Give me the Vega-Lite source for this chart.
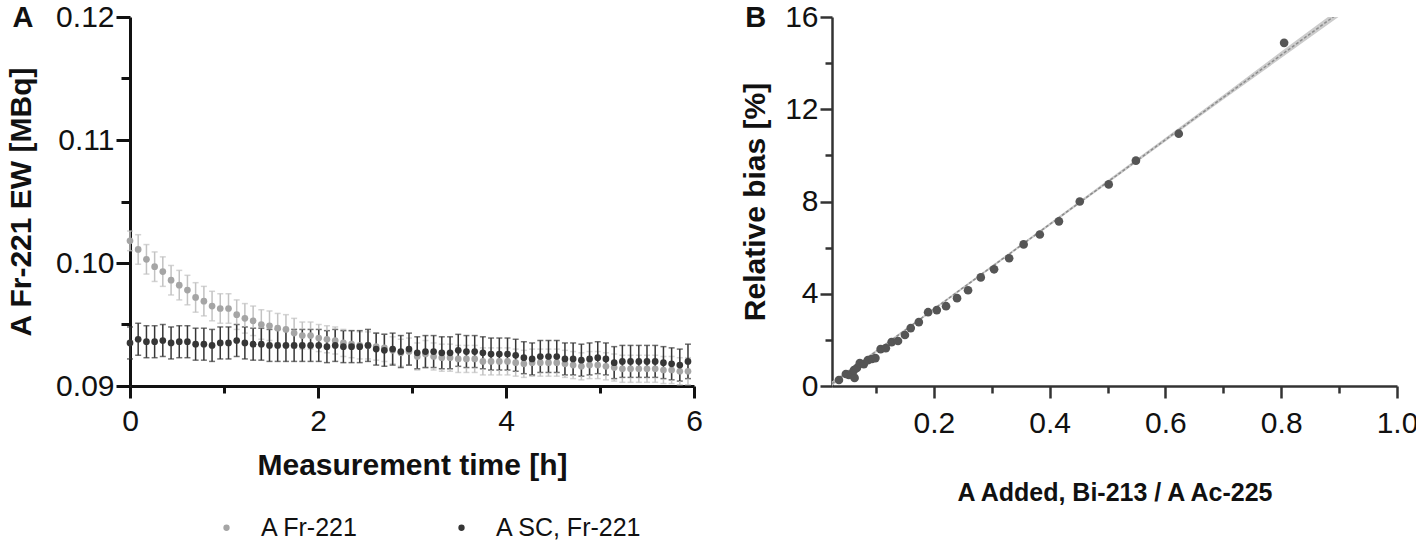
{
  "$schema": "https://vega.github.io/schema/vega-lite/v6.json",
  "background": "white",
  "padding": {"left": 6, "top": 2, "right": 2, "bottom": 0},
  "config": {
    "font": "Liberation Sans",
    "view": {"stroke": null},
    "concat": {"spacing": 37},
    "axis": {
      "grid": false,
      "labelFont": "Liberation Sans",
      "labelFontSize": 30,
      "labelColor": "#111111",
      "titleFont": "Liberation Sans",
      "titleFontSize": 30,
      "titleFontWeight": "bold",
      "titleColor": "#111111",
      "domainColor": "#111111",
      "tickColor": "#111111",
      "domainWidth": 3,
      "tickWidth": 3,
      "labelFlush": false,
      "labelOverlap": false
    }
  },
  "datasets": {
    "a": [
      {"t":0,"v":0.1018,"e":0.0008,"s":"A Fr-221"},
      {"t":0.087,"v":0.1011,"e":0.0012,"s":"A Fr-221"},
      {"t":0.175,"v":0.1003,"e":0.0012,"s":"A Fr-221"},
      {"t":0.262,"v":0.0997,"e":0.0012,"s":"A Fr-221"},
      {"t":0.349,"v":0.0993,"e":0.0012,"s":"A Fr-221"},
      {"t":0.437,"v":0.0986,"e":0.0012,"s":"A Fr-221"},
      {"t":0.524,"v":0.0982,"e":0.0012,"s":"A Fr-221"},
      {"t":0.611,"v":0.0978,"e":0.0012,"s":"A Fr-221"},
      {"t":0.698,"v":0.0972,"e":0.0012,"s":"A Fr-221"},
      {"t":0.786,"v":0.0969,"e":0.0012,"s":"A Fr-221"},
      {"t":0.873,"v":0.0965,"e":0.0012,"s":"A Fr-221"},
      {"t":0.960,"v":0.0963,"e":0.0012,"s":"A Fr-221"},
      {"t":1.048,"v":0.0963,"e":0.0012,"s":"A Fr-221"},
      {"t":1.135,"v":0.0958,"e":0.0012,"s":"A Fr-221"},
      {"t":1.222,"v":0.0955,"e":0.0012,"s":"A Fr-221"},
      {"t":1.310,"v":0.0953,"e":0.0012,"s":"A Fr-221"},
      {"t":1.397,"v":0.0950,"e":0.0012,"s":"A Fr-221"},
      {"t":1.484,"v":0.0949,"e":0.0012,"s":"A Fr-221"},
      {"t":1.571,"v":0.0947,"e":0.0012,"s":"A Fr-221"},
      {"t":1.659,"v":0.0946,"e":0.0012,"s":"A Fr-221"},
      {"t":1.746,"v":0.0943,"e":0.0012,"s":"A Fr-221"},
      {"t":1.833,"v":0.0941,"e":0.0011,"s":"A Fr-221"},
      {"t":1.921,"v":0.0941,"e":0.0011,"s":"A Fr-221"},
      {"t":2.008,"v":0.0939,"e":0.0011,"s":"A Fr-221"},
      {"t":2.095,"v":0.0938,"e":0.0011,"s":"A Fr-221"},
      {"t":2.183,"v":0.0937,"e":0.0011,"s":"A Fr-221"},
      {"t":2.270,"v":0.0935,"e":0.0011,"s":"A Fr-221"},
      {"t":2.357,"v":0.0934,"e":0.0011,"s":"A Fr-221"},
      {"t":2.444,"v":0.0933,"e":0.0011,"s":"A Fr-221"},
      {"t":2.532,"v":0.0933,"e":0.0011,"s":"A Fr-221"},
      {"t":2.619,"v":0.0932,"e":0.0011,"s":"A Fr-221"},
      {"t":2.706,"v":0.0931,"e":0.0011,"s":"A Fr-221"},
      {"t":2.794,"v":0.0929,"e":0.0011,"s":"A Fr-221"},
      {"t":2.881,"v":0.0927,"e":0.0011,"s":"A Fr-221"},
      {"t":2.968,"v":0.0928,"e":0.0011,"s":"A Fr-221"},
      {"t":3.056,"v":0.0924,"e":0.0011,"s":"A Fr-221"},
      {"t":3.143,"v":0.0926,"e":0.0011,"s":"A Fr-221"},
      {"t":3.230,"v":0.0924,"e":0.0011,"s":"A Fr-221"},
      {"t":3.317,"v":0.0923,"e":0.0011,"s":"A Fr-221"},
      {"t":3.405,"v":0.0923,"e":0.0011,"s":"A Fr-221"},
      {"t":3.492,"v":0.0922,"e":0.0011,"s":"A Fr-221"},
      {"t":3.579,"v":0.0922,"e":0.0011,"s":"A Fr-221"},
      {"t":3.667,"v":0.0922,"e":0.0011,"s":"A Fr-221"},
      {"t":3.754,"v":0.0920,"e":0.0011,"s":"A Fr-221"},
      {"t":3.841,"v":0.0920,"e":0.0011,"s":"A Fr-221"},
      {"t":3.929,"v":0.0920,"e":0.0011,"s":"A Fr-221"},
      {"t":4.016,"v":0.0920,"e":0.0011,"s":"A Fr-221"},
      {"t":4.103,"v":0.0919,"e":0.0011,"s":"A Fr-221"},
      {"t":4.190,"v":0.0918,"e":0.0011,"s":"A Fr-221"},
      {"t":4.278,"v":0.0919,"e":0.0011,"s":"A Fr-221"},
      {"t":4.365,"v":0.0919,"e":0.0011,"s":"A Fr-221"},
      {"t":4.452,"v":0.0919,"e":0.0011,"s":"A Fr-221"},
      {"t":4.540,"v":0.0919,"e":0.0011,"s":"A Fr-221"},
      {"t":4.627,"v":0.0918,"e":0.0011,"s":"A Fr-221"},
      {"t":4.714,"v":0.0917,"e":0.0011,"s":"A Fr-221"},
      {"t":4.802,"v":0.0916,"e":0.0011,"s":"A Fr-221"},
      {"t":4.889,"v":0.0917,"e":0.0011,"s":"A Fr-221"},
      {"t":4.976,"v":0.0917,"e":0.0011,"s":"A Fr-221"},
      {"t":5.063,"v":0.0916,"e":0.0011,"s":"A Fr-221"},
      {"t":5.151,"v":0.0915,"e":0.0011,"s":"A Fr-221"},
      {"t":5.238,"v":0.0914,"e":0.0011,"s":"A Fr-221"},
      {"t":5.325,"v":0.0914,"e":0.0011,"s":"A Fr-221"},
      {"t":5.413,"v":0.0914,"e":0.0011,"s":"A Fr-221"},
      {"t":5.500,"v":0.0914,"e":0.0011,"s":"A Fr-221"},
      {"t":5.587,"v":0.0914,"e":0.0011,"s":"A Fr-221"},
      {"t":5.675,"v":0.0913,"e":0.0011,"s":"A Fr-221"},
      {"t":5.762,"v":0.0913,"e":0.0011,"s":"A Fr-221"},
      {"t":5.849,"v":0.0912,"e":0.0011,"s":"A Fr-221"},
      {"t":5.936,"v":0.0912,"e":0.0011,"s":"A Fr-221"},
      {"t":0,"v":0.0935,"e":0.0013,"s":"A SC, Fr-221"},
      {"t":0.087,"v":0.0938,"e":0.0013,"s":"A SC, Fr-221"},
      {"t":0.175,"v":0.0936,"e":0.0013,"s":"A SC, Fr-221"},
      {"t":0.262,"v":0.0936,"e":0.0013,"s":"A SC, Fr-221"},
      {"t":0.349,"v":0.0937,"e":0.0013,"s":"A SC, Fr-221"},
      {"t":0.437,"v":0.0935,"e":0.0013,"s":"A SC, Fr-221"},
      {"t":0.524,"v":0.0936,"e":0.0013,"s":"A SC, Fr-221"},
      {"t":0.611,"v":0.0936,"e":0.0013,"s":"A SC, Fr-221"},
      {"t":0.698,"v":0.0934,"e":0.0013,"s":"A SC, Fr-221"},
      {"t":0.786,"v":0.0934,"e":0.0013,"s":"A SC, Fr-221"},
      {"t":0.873,"v":0.0933,"e":0.0013,"s":"A SC, Fr-221"},
      {"t":0.960,"v":0.0935,"e":0.0013,"s":"A SC, Fr-221"},
      {"t":1.048,"v":0.0935,"e":0.0013,"s":"A SC, Fr-221"},
      {"t":1.135,"v":0.0937,"e":0.0013,"s":"A SC, Fr-221"},
      {"t":1.222,"v":0.0935,"e":0.0013,"s":"A SC, Fr-221"},
      {"t":1.310,"v":0.0934,"e":0.0013,"s":"A SC, Fr-221"},
      {"t":1.397,"v":0.0934,"e":0.0013,"s":"A SC, Fr-221"},
      {"t":1.484,"v":0.0933,"e":0.0013,"s":"A SC, Fr-221"},
      {"t":1.571,"v":0.0933,"e":0.0013,"s":"A SC, Fr-221"},
      {"t":1.659,"v":0.0933,"e":0.0013,"s":"A SC, Fr-221"},
      {"t":1.746,"v":0.0933,"e":0.0013,"s":"A SC, Fr-221"},
      {"t":1.833,"v":0.0933,"e":0.0013,"s":"A SC, Fr-221"},
      {"t":1.921,"v":0.0933,"e":0.0013,"s":"A SC, Fr-221"},
      {"t":2.008,"v":0.0933,"e":0.0013,"s":"A SC, Fr-221"},
      {"t":2.095,"v":0.0932,"e":0.0013,"s":"A SC, Fr-221"},
      {"t":2.183,"v":0.0933,"e":0.0013,"s":"A SC, Fr-221"},
      {"t":2.270,"v":0.0932,"e":0.0013,"s":"A SC, Fr-221"},
      {"t":2.357,"v":0.0932,"e":0.0013,"s":"A SC, Fr-221"},
      {"t":2.444,"v":0.0932,"e":0.0013,"s":"A SC, Fr-221"},
      {"t":2.532,"v":0.0933,"e":0.0013,"s":"A SC, Fr-221"},
      {"t":2.619,"v":0.0930,"e":0.0013,"s":"A SC, Fr-221"},
      {"t":2.706,"v":0.0929,"e":0.0013,"s":"A SC, Fr-221"},
      {"t":2.794,"v":0.0930,"e":0.0013,"s":"A SC, Fr-221"},
      {"t":2.881,"v":0.0928,"e":0.0013,"s":"A SC, Fr-221"},
      {"t":2.968,"v":0.0930,"e":0.0013,"s":"A SC, Fr-221"},
      {"t":3.056,"v":0.0927,"e":0.0013,"s":"A SC, Fr-221"},
      {"t":3.143,"v":0.0928,"e":0.0013,"s":"A SC, Fr-221"},
      {"t":3.230,"v":0.0928,"e":0.0013,"s":"A SC, Fr-221"},
      {"t":3.317,"v":0.0927,"e":0.0013,"s":"A SC, Fr-221"},
      {"t":3.405,"v":0.0927,"e":0.0013,"s":"A SC, Fr-221"},
      {"t":3.492,"v":0.0929,"e":0.0013,"s":"A SC, Fr-221"},
      {"t":3.579,"v":0.0928,"e":0.0013,"s":"A SC, Fr-221"},
      {"t":3.667,"v":0.0928,"e":0.0013,"s":"A SC, Fr-221"},
      {"t":3.754,"v":0.0927,"e":0.0013,"s":"A SC, Fr-221"},
      {"t":3.841,"v":0.0926,"e":0.0013,"s":"A SC, Fr-221"},
      {"t":3.929,"v":0.0926,"e":0.0013,"s":"A SC, Fr-221"},
      {"t":4.016,"v":0.0926,"e":0.0013,"s":"A SC, Fr-221"},
      {"t":4.103,"v":0.0925,"e":0.0013,"s":"A SC, Fr-221"},
      {"t":4.190,"v":0.0923,"e":0.0013,"s":"A SC, Fr-221"},
      {"t":4.278,"v":0.0922,"e":0.0013,"s":"A SC, Fr-221"},
      {"t":4.365,"v":0.0924,"e":0.0013,"s":"A SC, Fr-221"},
      {"t":4.452,"v":0.0924,"e":0.0013,"s":"A SC, Fr-221"},
      {"t":4.540,"v":0.0924,"e":0.0013,"s":"A SC, Fr-221"},
      {"t":4.627,"v":0.0922,"e":0.0013,"s":"A SC, Fr-221"},
      {"t":4.714,"v":0.0922,"e":0.0013,"s":"A SC, Fr-221"},
      {"t":4.802,"v":0.0921,"e":0.0013,"s":"A SC, Fr-221"},
      {"t":4.889,"v":0.0922,"e":0.0013,"s":"A SC, Fr-221"},
      {"t":4.976,"v":0.0923,"e":0.0013,"s":"A SC, Fr-221"},
      {"t":5.063,"v":0.0922,"e":0.0013,"s":"A SC, Fr-221"},
      {"t":5.151,"v":0.0919,"e":0.0013,"s":"A SC, Fr-221"},
      {"t":5.238,"v":0.0920,"e":0.0013,"s":"A SC, Fr-221"},
      {"t":5.325,"v":0.0920,"e":0.0013,"s":"A SC, Fr-221"},
      {"t":5.413,"v":0.0920,"e":0.0013,"s":"A SC, Fr-221"},
      {"t":5.500,"v":0.0920,"e":0.0013,"s":"A SC, Fr-221"},
      {"t":5.587,"v":0.0920,"e":0.0013,"s":"A SC, Fr-221"},
      {"t":5.675,"v":0.0919,"e":0.0013,"s":"A SC, Fr-221"},
      {"t":5.762,"v":0.0918,"e":0.0013,"s":"A SC, Fr-221"},
      {"t":5.849,"v":0.0917,"e":0.0013,"s":"A SC, Fr-221"},
      {"t":5.936,"v":0.0920,"e":0.0014,"s":"A SC, Fr-221"}
    ],
    "b": [
      {"x":0.036,"y":0.26},{"x":0.048,"y":0.52},{"x":0.053,"y":0.48},{"x":0.058,"y":0.52},
      {"x":0.063,"y":0.35},{"x":0.062,"y":0.69},{"x":0.067,"y":0.78},{"x":0.072,"y":0.99},
      {"x":0.079,"y":0.95},{"x":0.086,"y":1.12},{"x":0.093,"y":1.17},{"x":0.099,"y":1.21},
      {"x":0.108,"y":1.60},{"x":0.117,"y":1.64},{"x":0.127,"y":1.90},{"x":0.138,"y":1.95},
      {"x":0.150,"y":2.21},{"x":0.160,"y":2.51},{"x":0.174,"y":2.77},{"x":0.190,"y":3.20},
      {"x":0.205,"y":3.29},{"x":0.221,"y":3.46},{"x":0.240,"y":3.81},{"x":0.259,"y":4.15},
      {"x":0.281,"y":4.71},{"x":0.304,"y":5.06},{"x":0.330,"y":5.54},{"x":0.355,"y":6.14},
      {"x":0.383,"y":6.57},{"x":0.416,"y":7.14},{"x":0.452,"y":8.00},{"x":0.502,"y":8.74},
      {"x":0.549,"y":9.77},{"x":0.623,"y":10.94},{"x":0.805,"y":14.88}
    ],
    "fit": [{"x":0.024,"y":0.10},{"x":0.9,"y":16.19}],
    "band": [
      {"x":0.024,"lo":0.00,"hi":0.20},{"x":0.1,"lo":1.44,"hi":1.56},{"x":0.2,"lo":3.28,"hi":3.38},
      {"x":0.3,"lo":5.12,"hi":5.22},{"x":0.4,"lo":6.95,"hi":7.07},{"x":0.5,"lo":8.78,"hi":8.92},
      {"x":0.6,"lo":10.60,"hi":10.76},{"x":0.7,"lo":12.42,"hi":12.62},{"x":0.8,"lo":14.22,"hi":14.50},
      {"x":0.9,"lo":16.02,"hi":16.36}
    ],
    "panelA": [{"panel": "A"}],
    "panelB": [{"panel": "B"}]
  },
  "hconcat": [
    {
      "width": 564,
      "height": 369,
      "resolve": {"scale": {"color": "independent"}},
      "layer": [
        {
          "data": {"name": "a"},
          "mark": {"type": "errorbar", "ticks": {"size": 6}, "thickness": 1.5},
          "encoding": {
            "x": {"field": "t", "type": "quantitative", "scale": {"domain": [0, 6], "nice": false}},
            "y": {"field": "v", "type": "quantitative", "title": "A Fr-221 EW [MBq]", "scale": {"domain": [0.09, 0.12], "nice": false, "zero": false}},
            "yError": {"field": "e"},
            "color": {"field": "s", "type": "nominal", "scale": {"domain": ["A Fr-221", "A SC, Fr-221"], "range": ["#c2c2c2", "#363636"]}, "legend": null}
          }
        },
        {
          "data": {"name": "a"},
          "mark": {"type": "circle", "size": 45, "opacity": 1},
          "encoding": {
            "x": {"field": "t", "type": "quantitative", "scale": {"domain": [0, 6], "nice": false},
              "axis": {"title": "Measurement time [h]", "values": [0,1,2,3,4,5,6],
                "labelExpr": "datum.value % 2 === 0 ? format(datum.value, 'd') : ''",
                "tickSize": {"condition": {"test": "datum.value % 2 === 0", "value": 12}, "value": 7},
                "labelPadding": 8, "titlePadding": 14}},
            "y": {"field": "v", "type": "quantitative", "scale": {"domain": [0.09, 0.12], "nice": false, "zero": false},
              "axis": {"title": "A Fr-221 EW [MBq]", "values": [0.09,0.095,0.1,0.105,0.11,0.115,0.12],
                "labelExpr": "round(datum.value*1000) % 10 === 0 ? format(datum.value, '.2f') : ''",
                "tickSize": {"condition": {"test": "round(datum.value*1000) % 10 === 0", "value": 14}, "value": 9},
                "labelPadding": 2, "titlePadding": 19}},
            "color": {"field": "s", "type": "nominal", "scale": {"domain": ["A Fr-221", "A SC, Fr-221"], "range": ["#a5a5a5", "#363636"]},
              "legend": {"orient": "bottom", "direction": "horizontal", "title": " ", "titleOrient": "left", "titlePadding": 84,
                "symbolType": "circle", "symbolSize": 40,
                "labelFont": "Liberation Sans", "labelFontSize": 25, "labelColor": "#111111", "labelOffset": 22, "columnPadding": 90, "offset": 35}}
          }
        },
        {
          "data": {"name": "panelA"},
          "mark": {"type": "text", "fontSize": 29, "fontWeight": "bold", "font": "Liberation Sans", "color": "#111111", "align": "left", "baseline": "alphabetic", "clip": false},
          "encoding": {
            "text": {"field": "panel"},
            "x": {"datum": -1.25, "type": "quantitative"},
            "y": {"datum": 0.1192, "type": "quantitative"}
          }
        }
      ]
    },
    {
      "width": 565,
      "height": 369,
      "layer": [
        {
          "data": {"name": "band"},
          "mark": {"type": "area", "color": "#cccccc", "clip": true},
          "encoding": {
            "x": {"field": "x", "type": "quantitative", "scale": {"domain": [0.024, 1.0], "nice": false, "zero": false}},
            "y": {"field": "lo", "type": "quantitative", "scale": {"domain": [0, 16], "nice": false}},
            "y2": {"field": "hi"}
          }
        },
        {
          "data": {"name": "fit"},
          "mark": {"type": "line", "color": "#8c8c8c", "strokeWidth": 1.5, "strokeDash": [3, 2], "clip": true},
          "encoding": {
            "x": {"field": "x", "type": "quantitative", "scale": {"domain": [0.024, 1.0], "nice": false, "zero": false}},
            "y": {"field": "y", "type": "quantitative", "scale": {"domain": [0, 16], "nice": false}}
          }
        },
        {
          "data": {"name": "b"},
          "mark": {"type": "circle", "size": 75, "color": "#555555", "opacity": 1},
          "encoding": {
            "x": {"field": "x", "type": "quantitative", "scale": {"domain": [0.024, 1.0], "nice": false, "zero": false},
              "axis": {"title": "A Added, Bi-213 / A Ac-225", "titleFontSize": 25, "values": [0.1,0.2,0.3,0.4,0.5,0.6,0.7,0.8,0.9,1.0],
                "labelExpr": "round(datum.value*10) % 2 === 0 ? format(datum.value, '.1f') : ''",
                "tickSize": {"condition": {"test": "round(datum.value*10) % 2 === 0", "value": 12}, "value": 7},
                "labelPadding": 10, "titlePadding": 42, "domainColor": "#333333", "tickColor": "#333333", "domainWidth": 2.5, "tickWidth": 2.5}},
            "y": {"field": "y", "type": "quantitative", "scale": {"domain": [0, 16], "nice": false},
              "axis": {"title": "Relative bias [%]", "values": [0,2,4,6,8,10,12,14,16],
                "labelExpr": "datum.value % 4 === 0 ? datum.label : ''",
                "tickSize": {"condition": {"test": "datum.value % 4 === 0", "value": 12}, "value": 7},
                "labelPadding": 2, "titlePadding": 14, "domainColor": "#333333", "tickColor": "#333333", "domainWidth": 2.5, "tickWidth": 2.5}}
          }
        },
        {
          "data": {"name": "panelB"},
          "mark": {"type": "text", "fontSize": 29, "fontWeight": "bold", "font": "Liberation Sans", "color": "#111111", "align": "left", "baseline": "alphabetic", "clip": false},
          "encoding": {
            "text": {"field": "panel"},
            "x": {"datum": -0.126, "type": "quantitative"},
            "y": {"datum": 15.57, "type": "quantitative"}
          }
        }
      ]
    }
  ]
}
